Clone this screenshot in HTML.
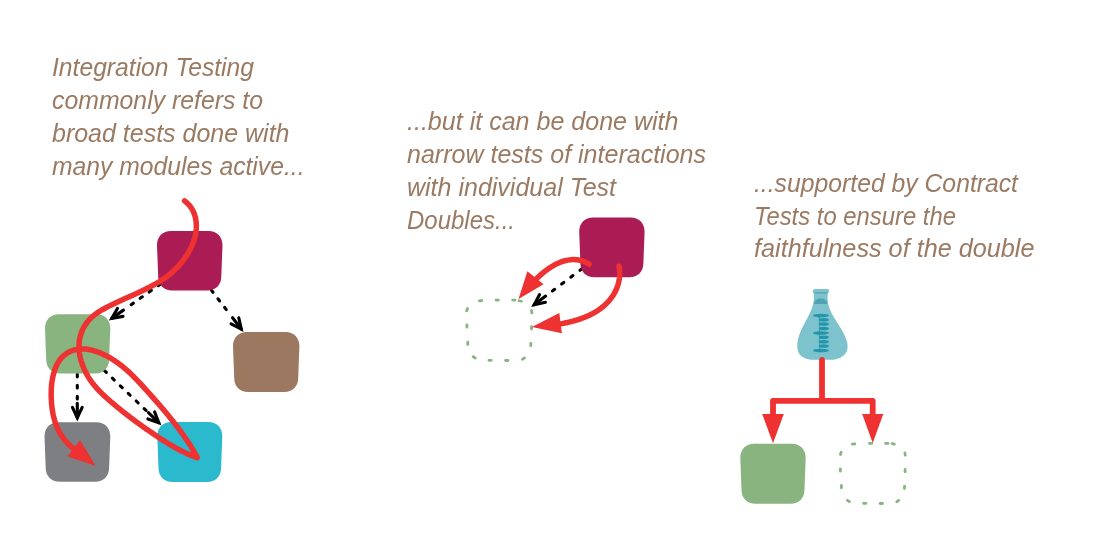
<!DOCTYPE html>
<html><head><meta charset="utf-8"><style>
html,body{margin:0;padding:0;background:#fff;}
svg{display:block;will-change:transform;}
</style></head><body>
<svg width="1111" height="555" viewBox="0 0 1111 555">
<rect width="1111" height="555" fill="#fff"/>
<g font-family="Liberation Sans" font-style="italic" font-size="25" fill="#9b7a62">
<text x="52" y="76.0" textLength="202" lengthAdjust="spacingAndGlyphs">Integration Testing</text>
<text x="52" y="109.1" textLength="211" lengthAdjust="spacingAndGlyphs">commonly refers to</text>
<text x="52" y="142.2" textLength="237.5" lengthAdjust="spacingAndGlyphs">broad tests done with</text>
<text x="52" y="175.3" textLength="252.5" lengthAdjust="spacingAndGlyphs">many modules active...</text>
<text x="407" y="130.0" textLength="271.5" lengthAdjust="spacingAndGlyphs">...but it can be done with</text>
<text x="407" y="162.9" textLength="299" lengthAdjust="spacingAndGlyphs">narrow tests of interactions</text>
<text x="407" y="195.8" textLength="209" lengthAdjust="spacingAndGlyphs">with individual Test</text>
<text x="407" y="228.7" textLength="108" lengthAdjust="spacingAndGlyphs">Doubles...</text>
<text x="754" y="192.0" textLength="264" lengthAdjust="spacingAndGlyphs">...supported by Contract</text>
<text x="754" y="224.5" textLength="202" lengthAdjust="spacingAndGlyphs">Tests to ensure the</text>
<text x="754" y="257.0" textLength="280.5" lengthAdjust="spacingAndGlyphs">faithfulness of the double</text>
</g>
<path d="M131.16,304.69L133.37,303.13M140.16,298.35L142.36,296.80M149.15,292.01L151.35,290.46M158.14,285.68L160.34,284.12M111.73,318.39L123.44,310.13" stroke="#000" stroke-width="3.1" stroke-linecap="round" fill="none"/>
<polyline points="123.04,316.36 111.73,318.39 117.44,308.41" fill="none" stroke="#000" stroke-width="3.1" stroke-linejoin="miter" stroke-linecap="round" stroke-miterlimit="10"/>
<path d="M226.28,309.58L224.64,307.44M219.63,300.94L217.98,298.80M212.98,292.31L211.33,290.17M206.32,283.68L204.68,281.54M241.29,329.05L232.54,317.70" stroke="#000" stroke-width="3.1" stroke-linecap="round" fill="none"/>
<polyline points="238.78,317.83 241.29,329.05 231.08,323.76" fill="none" stroke="#000" stroke-width="3.1" stroke-linejoin="miter" stroke-linecap="round" stroke-miterlimit="10"/>
<path d="M77.30,399.05L77.30,396.35M77.30,387.95L77.30,385.25M77.30,376.85L77.30,374.15M77.30,365.75L77.30,363.05M77.30,417.73L77.30,403.40" stroke="#000" stroke-width="3.1" stroke-linecap="round" fill="none"/>
<polyline points="82.16,407.31 77.30,417.73 72.44,407.31" fill="none" stroke="#000" stroke-width="3.1" stroke-linejoin="miter" stroke-linecap="round" stroke-miterlimit="10"/>
<path d="M146.07,410.48L144.12,408.61M138.12,402.87L136.18,401.00M130.18,395.25L128.23,393.39M122.24,387.64L120.29,385.77M114.30,380.03L112.35,378.16M106.36,372.42L104.41,370.55M98.42,364.81L96.47,362.94M158.76,422.65L148.41,412.73" stroke="#000" stroke-width="3.1" stroke-linecap="round" fill="none"/>
<polyline points="154.60,411.93 158.76,422.65 147.87,418.94" fill="none" stroke="#000" stroke-width="3.1" stroke-linejoin="miter" stroke-linecap="round" stroke-miterlimit="10"/>
<path d="M171.0,231.0 L208.5,231.0 C216.9,231.0 222.5,236.6 222.5,245.0 L221.3,276.4 C221.3,284.8 215.7,290.4 207.3,290.4 L172.2,290.4 C163.8,290.4 158.2,284.8 158.2,276.4 L157.0,245.0 C157.0,236.6 162.6,231.0 171.0,231.0Z" fill="#ab1c54"/>
<path d="M59.0,314.3 L96.3,314.3 C104.7,314.3 110.3,319.9 110.3,328.3 L109.1,359.5 C109.1,367.9 103.5,373.5 95.1,373.5 L60.2,373.5 C51.8,373.5 46.2,367.9 46.2,359.5 L45.0,328.3 C45.0,319.9 50.6,314.3 59.0,314.3Z" fill="#89b47f"/>
<path d="M247.0,332.0 L285.4,332.0 C293.8,332.0 299.4,337.6 299.4,346.0 L298.2,378.0 C298.2,386.4 292.6,392.0 284.2,392.0 L248.2,392.0 C239.8,392.0 234.2,386.4 234.2,378.0 L233.0,346.0 C233.0,337.6 238.6,332.0 247.0,332.0Z" fill="#9c7860"/>
<path d="M58.5,422.2 L96.3,422.2 C104.7,422.2 110.3,427.8 110.3,436.2 L109.1,467.8 C109.1,476.2 103.5,481.8 95.1,481.8 L59.7,481.8 C51.3,481.8 45.7,476.2 45.7,467.8 L44.5,436.2 C44.5,427.8 50.1,422.2 58.5,422.2Z" fill="#7e7f83"/>
<path d="M171.3,422.0 L208.3,422.0 C216.7,422.0 222.3,427.6 222.3,436.0 L221.1,468.0 C221.1,476.4 215.5,482.0 207.1,482.0 L172.5,482.0 C164.1,482.0 158.5,476.4 158.5,468.0 L157.3,436.0 C157.3,427.6 162.9,422.0 171.3,422.0Z" fill="#2bbacd"/>
<path d="M184.53,200.87 L185.81,201.86 L187.01,202.89 L188.13,203.98 L189.17,205.12 L190.14,206.30 L191.03,207.52 L191.84,208.79 L192.58,210.08 L193.25,211.42 L193.85,212.78 L194.38,214.17 L194.84,215.58 L195.24,217.02 L195.57,218.48 L195.84,219.95 L196.05,221.43 L196.20,222.93 L196.29,224.43 L196.32,225.93 L196.30,227.44 L196.22,228.95 L196.09,230.45 L195.91,231.94 L195.68,233.43 L195.40,234.90 L195.08,236.37 L194.71,237.83 L194.29,239.27 L193.84,240.71 L193.34,242.13 L192.81,243.55 L192.23,244.95 L191.62,246.33 L190.98,247.71 L190.31,249.07 L189.60,250.41 L188.86,251.74 L188.10,253.06 L187.30,254.35 L186.49,255.63 L185.64,256.90 L184.78,258.14 L183.90,259.37 L182.99,260.58 L182.06,261.77 L181.12,262.94 L180.15,264.10 L179.17,265.23 L178.16,266.34 L177.13,267.44 L176.09,268.51 L175.02,269.57 L173.94,270.60 L172.84,271.62 L171.71,272.61 L170.57,273.59 L169.41,274.54 L168.24,275.47 L167.04,276.38 L165.83,277.28 L164.60,278.15 L163.36,279.00 L162.11,279.84 L160.84,280.66 L159.56,281.46 L158.27,282.25 L156.97,283.03 L155.66,283.78 L154.34,284.53 L153.02,285.26 L151.69,285.98 L150.36,286.69 L149.02,287.39 L147.68,288.07 L146.34,288.75 L144.99,289.42 L143.64,290.08 L142.28,290.73 L140.93,291.38 L139.57,292.02 L138.21,292.65 L136.85,293.28 L135.48,293.90 L134.12,294.53 L132.75,295.14 L131.38,295.76 L130.01,296.38 L128.64,296.99 L127.27,297.60 L125.90,298.22 L124.53,298.84 L123.16,299.46 L121.79,300.08 L120.42,300.70 L119.05,301.33 L117.68,301.96 L116.31,302.60 L114.94,303.25 L113.58,303.90 L112.21,304.56 L110.85,305.23 L109.49,305.91 L108.13,306.59 L106.78,307.29 L105.43,308.00 L104.09,308.73 L102.75,309.47 L101.43,310.23 L100.13,311.01 L98.84,311.82 L97.58,312.65 L96.34,313.51 L95.12,314.40 L93.94,315.33 L92.78,316.29 L91.67,317.29 L90.58,318.33 L89.54,319.41 L88.55,320.53 L87.59,321.69 L86.68,322.89 L85.81,324.12 L84.99,325.38 L84.22,326.67 L83.50,327.98 L82.83,329.32 L82.21,330.69 L81.64,332.07 L81.13,333.47 L80.67,334.89 L80.28,336.32 L79.93,337.77 L79.65,339.22 L79.42,340.69 L79.24,342.16 L79.11,343.64 L79.04,345.12 L79.02,346.62 L79.04,348.11 L79.12,349.61 L79.24,351.11 L79.41,352.60 L79.62,354.10 L79.88,355.59 L80.18,357.08 L80.52,358.57 L80.90,360.05 L81.32,361.52 L81.78,362.98 L82.28,364.44 L82.81,365.88 L83.38,367.31 L83.98,368.73 L84.61,370.13 L85.28,371.51 L85.97,372.88 L86.70,374.23 L87.46,375.56 L88.24,376.87 L89.05,378.16 L89.88,379.42 L90.74,380.67 L91.62,381.89 L92.52,383.09 L93.45,384.27 L94.39,385.44 L95.35,386.58 L96.34,387.71 L97.34,388.83 L98.35,389.92 L99.39,391.01 L100.43,392.08 L101.49,393.13 L102.57,394.18 L103.65,395.21 L104.75,396.24 L105.85,397.25 L106.97,398.26 L108.09,399.26 L109.22,400.25 L110.35,401.24 L111.49,402.22 L112.64,403.19 L113.79,404.17 L114.94,405.13 L116.10,406.10 L117.26,407.06 L118.42,408.01 L119.59,408.96 L120.76,409.91 L121.93,410.85 L123.11,411.79 L124.30,412.72 L125.48,413.65 L126.67,414.58 L127.86,415.50 L129.06,416.42 L130.26,417.34 L131.46,418.25 L132.67,419.15 L133.88,420.06 L135.09,420.95 L136.30,421.85 L137.52,422.74 L138.74,423.63 L139.97,424.51 L141.19,425.39 L142.42,426.27 L143.66,427.14 L144.89,428.01 L146.13,428.88 L147.37,429.74 L148.61,430.60 L149.85,431.45 L151.10,432.31 L152.35,433.15 L153.60,434.00 L154.86,434.84 L156.11,435.68 L157.37,436.52 L158.63,437.35 L159.90,438.18 L161.16,439.00 L162.43,439.82 L163.70,440.63 L164.98,441.44 L166.26,442.24 L167.54,443.03 L168.82,443.82 L170.11,444.60 L171.41,445.36 L172.71,446.12 L174.01,446.88 L175.32,447.62 L176.64,448.35 L177.96,449.07 L179.29,449.77 L180.62,450.47 L181.96,451.15 L183.30,451.83 L184.66,452.48 L186.02,453.13 L187.38,453.75 L188.75,454.37 L190.14,454.97 L191.53,455.55 L192.92,456.12 L194.33,456.67 L195.74,457.20 L197.16,457.71 L197.34,457.51 L196.62,456.18 L195.88,454.87 L195.14,453.55 L194.39,452.25 L193.62,450.95 L192.85,449.65 L192.07,448.37 L191.28,447.08 L190.48,445.80 L189.67,444.53 L188.86,443.26 L188.03,442.00 L187.20,440.74 L186.36,439.49 L185.51,438.24 L184.66,437.00 L183.79,435.76 L182.92,434.52 L182.05,433.29 L181.16,432.07 L180.27,430.85 L179.38,429.63 L178.47,428.42 L177.56,427.21 L176.65,426.00 L175.73,424.80 L174.80,423.60 L173.87,422.41 L172.93,421.22 L171.99,420.03 L171.04,418.85 L170.09,417.67 L169.14,416.49 L168.18,415.32 L167.21,414.15 L166.24,412.98 L165.27,411.82 L164.29,410.66 L163.32,409.50 L162.33,408.35 L161.35,407.19 L160.36,406.04 L159.37,404.90 L158.37,403.75 L157.38,402.61 L156.38,401.47 L155.38,400.33 L154.38,399.19 L153.37,398.06 L152.37,396.93 L151.36,395.80 L150.35,394.67 L149.34,393.54 L148.33,392.42 L147.32,391.29 L146.31,390.17 L145.30,389.05 L144.29,387.93 L143.27,386.82 L142.26,385.70 L141.24,384.60 L140.21,383.49 L139.19,382.39 L138.16,381.30 L137.12,380.21 L136.08,379.13 L135.03,378.06 L133.97,376.99 L132.91,375.93 L131.84,374.89 L130.76,373.85 L129.68,372.82 L128.58,371.80 L127.47,370.79 L126.35,369.80 L125.22,368.82 L124.08,367.85 L122.93,366.89 L121.76,365.95 L120.58,365.02 L119.39,364.11 L118.18,363.21 L116.95,362.33 L115.71,361.46 L114.46,360.62 L113.18,359.79 L111.89,358.98 L110.58,358.19 L109.25,357.41 L107.91,356.66 L106.54,355.93 L105.15,355.22 L103.74,354.53 L102.32,353.87 L100.87,353.24 L99.41,352.63 L97.94,352.06 L96.45,351.52 L94.95,351.03 L93.45,350.58 L91.94,350.17 L90.43,349.82 L88.91,349.51 L87.40,349.27 L85.88,349.08 L84.37,348.95 L82.87,348.89 L81.37,348.89 L79.89,348.97 L78.41,349.12 L76.95,349.35 L75.51,349.65 L74.09,350.03 L72.69,350.48 L71.32,351.00 L69.98,351.59 L68.68,352.24 L67.41,352.97 L66.18,353.76 L65.00,354.61 L63.87,355.53 L62.78,356.50 L61.75,357.54 L60.78,358.63 L59.86,359.78 L59.01,360.98 L58.22,362.24 L57.49,363.53 L56.81,364.87 L56.18,366.23 L55.59,367.63 L55.05,369.05 L54.55,370.49 L54.09,371.94 L53.67,373.41 L53.28,374.89 L52.93,376.39 L52.62,377.90 L52.34,379.41 L52.09,380.94 L51.88,382.48 L51.69,384.02 L51.54,385.57 L51.41,387.12 L51.32,388.68 L51.25,390.24 L51.20,391.80 L51.18,393.36 L51.18,394.91 L51.21,396.47 L51.26,398.02 L51.32,399.56 L51.41,401.10 L51.52,402.63 L51.64,404.16 L51.79,405.67 L51.96,407.18 L52.15,408.68 L52.37,410.17 L52.61,411.65 L52.87,413.12 L53.16,414.59 L53.48,416.04 L53.82,417.47 L54.19,418.90 L54.59,420.32 L55.02,421.72 L55.48,423.11 L55.98,424.49 L56.50,425.86 L57.06,427.21 L57.65,428.55 L58.27,429.87 L58.94,431.18 L59.63,432.47 L60.37,433.75 L61.14,435.01 L61.95,436.26 L62.79,437.49 L63.68,438.70 L64.61,439.89 L65.58,441.07 L66.60,442.22 L67.65,443.36 L68.76,444.48 L69.90,445.59 L71.09,446.67 L72.33,447.73 L73.61,448.77 L74.95,449.79" fill="none" stroke="#ee3131" stroke-width="5.5" stroke-linecap="round" stroke-linejoin="round"/>
<polygon points="67.4,456.5 95.6,465.7 80.1,440.3" fill="#ee3131"/>
<path d="M552.46,290.96L554.62,289.34M561.63,284.07L563.78,282.45M570.79,277.18L572.95,275.55M579.96,270.28L582.12,268.66M534.17,304.72L545.63,296.10" stroke="#000" stroke-width="3.1" stroke-linecap="round" fill="none"/>
<polyline points="545.42,302.34 534.17,304.72 539.58,294.57" fill="none" stroke="#000" stroke-width="3.1" stroke-linejoin="miter" stroke-linecap="round" stroke-miterlimit="10"/>
<path d="M593.2,217.5 L630.6,217.5 C639.0,217.5 644.6,223.1 644.6,231.5 L643.4,263.2 C643.4,271.6 637.8,277.2 629.4,277.2 L594.4,277.2 C586.0,277.2 580.4,271.6 580.4,263.2 L579.2,231.5 C579.2,223.1 584.8,217.5 593.2,217.5Z" fill="#ab1c54"/>
<path d="M479.41,300.87L481.79,300.53M496.00,300.10L498.40,300.10M512.60,300.10L515.00,300.10M519.03,300.75L521.37,301.25M531.49,310.52L531.91,312.88M531.50,326.70L531.50,329.10M530.84,343.30L530.76,345.70M522.42,359.29L524.38,357.91M505.60,360.50L508.00,360.50M488.90,360.30L491.30,360.30M473.22,356.61L475.18,357.99M467.84,342.10L467.76,344.50M466.90,324.80L466.90,327.20M466.73,310.74L467.47,308.46" stroke="#89b47f" stroke-width="2.8" stroke-linecap="round" fill="none"/>
<path d="M589.21,264.12 L587.71,263.25 L586.20,262.47 L584.69,261.79 L583.18,261.21 L581.66,260.73 L580.13,260.33 L578.61,260.02 L577.08,259.80 L575.56,259.66 L574.03,259.60 L572.51,259.61 L570.99,259.70 L569.48,259.86 L567.97,260.09 L566.47,260.39 L564.97,260.75 L563.48,261.17 L562.01,261.64 L560.54,262.18 L559.09,262.76 L557.65,263.39 L556.22,264.08 L554.81,264.80 L553.41,265.57 L552.04,266.37 L550.68,267.21 L549.34,268.09 L548.01,268.99 L546.72,269.92 L545.44,270.88 L544.19,271.86 L542.96,272.85 L541.76,273.87 L540.58,274.90 L539.43,275.94 L538.31,276.99 L537.22,278.04 L536.16,279.10" fill="none" stroke="#ee3131" stroke-width="5.5" stroke-linecap="round"/>
<path d="M619.05,266.21 L619.30,267.89 L619.48,269.55 L619.60,271.20 L619.65,272.82 L619.64,274.42 L619.57,276.00 L619.44,277.56 L619.25,279.10 L619.01,280.61 L618.70,282.11 L618.34,283.58 L617.93,285.02 L617.46,286.45 L616.95,287.85 L616.38,289.23 L615.76,290.58 L615.10,291.90 L614.39,293.21 L613.64,294.48 L612.84,295.74 L612.00,296.96 L611.12,298.16 L610.20,299.34 L609.25,300.48 L608.25,301.60 L607.22,302.70 L606.16,303.76 L605.06,304.80 L603.93,305.81 L602.77,306.79 L601.58,307.74 L600.36,308.67 L599.12,309.56 L597.85,310.42 L596.56,311.26 L595.24,312.06 L593.91,312.83 L592.55,313.58 L591.17,314.29 L589.78,314.98 L588.37,315.64 L586.95,316.27 L585.52,316.88 L584.07,317.46 L582.61,318.02 L581.15,318.55 L579.67,319.06 L578.20,319.55 L576.71,320.02 L575.23,320.47 L573.74,320.89 L572.25,321.30 L570.76,321.69 L569.27,322.06 L567.79,322.41 L566.32,322.74 L564.85,323.06 L563.38,323.37 L561.93,323.66 L560.49,323.93 L559.06,324.20" fill="none" stroke="#ee3131" stroke-width="5.5" stroke-linecap="round"/>
<polygon points="527.4,271.3 518.5,298.9 543.6,284.3" fill="#ee3131"/>
<polygon points="559.3,313.1 531.9,326.9 561.9,333.3" fill="#ee3131"/>
<path d="M754.3,443.7 L791.7,443.7 C800.1,443.7 805.7,449.3 805.7,457.7 L804.5,489.7 C804.5,498.1 798.9,503.7 790.5,503.7 L755.5,503.7 C747.1,503.7 741.5,498.1 741.5,489.7 L740.3,457.7 C740.3,449.3 745.9,443.7 754.3,443.7Z" fill="#89b47f"/>
<path d="M852.41,444.17L854.79,443.83M869.40,443.40L871.80,443.40M885.60,443.40L888.00,443.40M892.03,443.55L894.37,444.05M904.89,452.82L905.31,455.18M905.10,469.40L905.10,471.80M904.54,486.10L904.46,488.50M896.72,501.79L898.68,500.41M880.10,503.50L882.50,503.50M863.50,503.30L865.90,503.30M847.42,500.31L849.38,501.69M841.44,485.40L841.36,487.80M840.40,468.80L840.40,471.20M840.43,454.54L841.17,452.26" stroke="#89b47f" stroke-width="2.8" stroke-linecap="round" fill="none"/>
<path d="M813.84,293.96 L813.95,295.56 L813.97,297.13 L813.91,298.68 L813.77,300.21 L813.56,301.71 L813.29,303.19 L812.95,304.64 L812.55,306.09 L812.10,307.51 L811.59,308.92 L811.05,310.32 L810.47,311.70 L809.85,313.08 L809.20,314.45 L808.53,315.81 L807.84,317.17 L807.13,318.52 L806.41,319.87 L805.69,321.22 L804.97,322.57 L804.25,323.93 L803.54,325.29 L802.84,326.66 L802.17,328.04 L801.51,329.42 L800.89,330.82 L800.29,332.23 L799.74,333.65 L799.23,335.09 L798.76,336.55 L798.35,338.03 L797.99,339.53 L797.70,341.05 L797.47,342.60 L797.32,344.16 L797.26,345.73 L797.30,347.27 L797.46,348.78 L797.75,350.25 L798.18,351.64 L798.77,352.95 L799.53,354.16 L800.46,355.26 L801.53,356.24 L802.72,357.09 L803.99,357.81 L805.33,358.39 L806.71,358.85 L808.15,359.21 L809.62,359.46 L811.13,359.64 L812.67,359.75 L814.23,359.81 L815.81,359.82 L817.41,359.81 L819.01,359.79 L820.62,359.78 L822.23,359.77 L823.82,359.79 L825.41,359.83 L826.99,359.86 L828.55,359.87 L830.10,359.86 L831.63,359.79 L833.15,359.67 L834.64,359.47 L836.11,359.18 L837.55,358.79 L838.97,358.28 L840.36,357.64 L841.71,356.86 L842.98,355.95 L844.14,354.94 L845.16,353.84 L845.99,352.66 L846.63,351.43 L847.10,350.14 L847.41,348.80 L847.56,347.41 L847.58,346.00 L847.46,344.55 L847.23,343.09 L846.90,341.61 L846.47,340.12 L845.96,338.63 L845.38,337.15 L844.75,335.69 L844.07,334.24 L843.35,332.82 L842.60,331.43 L841.83,330.06 L841.04,328.71 L840.24,327.38 L839.42,326.06 L838.60,324.75 L837.77,323.46 L836.95,322.17 L836.13,320.89 L835.32,319.60 L834.53,318.32 L833.76,317.04 L833.02,315.74 L832.30,314.44 L831.61,313.13 L830.97,311.81 L830.36,310.47 L829.81,309.10 L829.30,307.72 L828.85,306.31 L828.46,304.88 L828.13,303.41 L827.88,301.92 L827.69,300.39 L827.59,298.82 L827.56,297.21 L827.63,295.55 L827.78,293.86Z" fill="#7dc3ce"/>
<path d="M814.2,304 C814,296.5 827.6,296.5 827.4,304 Z" fill="#4fa2b3"/>
<path d="M815,289 L827,289 Q829.5,289.5 829,291.5 Q828.5,294.3 826,294.3 L815.5,294.3 Q813,294.3 812.8,291.5 Q812.6,289 815,289Z" fill="#7dc3ce"/>
<path d="M814.5,292.8 L827.5,292.8" stroke="#5aaab9" stroke-width="1.6"/>
<ellipse cx="820.9" cy="315.4" rx="8" ry="1.75" fill="#2595ad"/>
<ellipse cx="823.8" cy="319.7" rx="5.1" ry="1.75" fill="#2595ad"/>
<ellipse cx="823.8" cy="324" rx="5.1" ry="1.75" fill="#2595ad"/>
<ellipse cx="823.8" cy="328.5" rx="5.1" ry="1.75" fill="#2595ad"/>
<ellipse cx="820.9" cy="333" rx="8" ry="1.75" fill="#2595ad"/>
<ellipse cx="823.8" cy="337.2" rx="5.1" ry="1.75" fill="#2595ad"/>
<ellipse cx="823.8" cy="341.7" rx="5.1" ry="1.75" fill="#2595ad"/>
<ellipse cx="823.8" cy="346.1" rx="5.1" ry="1.75" fill="#2595ad"/>
<ellipse cx="820.9" cy="350.6" rx="8" ry="1.75" fill="#2595ad"/>
<rect x="818.9" y="316" width="1.3" height="34" fill="#2595ad" opacity="0.7"/>
<path d="M822,360 L822,400.8 M773,416 L773,400.8 L872.7,400.8 L872.7,416" fill="none" stroke="#ee3131" stroke-width="5.8" stroke-linejoin="round" stroke-linecap="round"/>
<polygon points="762.2,414 783.8,414 773,443.2" fill="#ee3131"/>
<polygon points="862.2,414 883.3,414 872.7,443" fill="#ee3131"/>
</svg>
</body></html>
